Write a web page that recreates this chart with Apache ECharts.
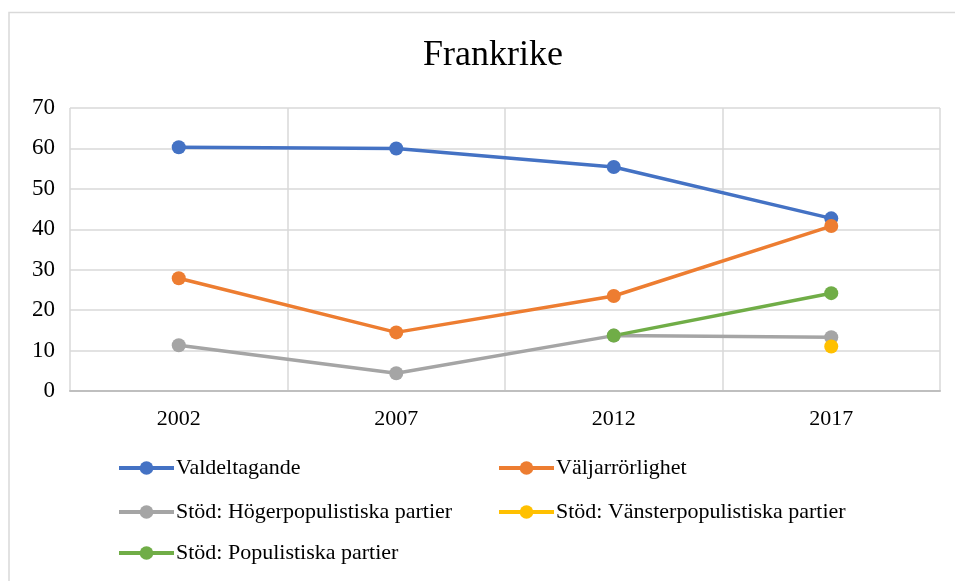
<!DOCTYPE html>
<html>
<head>
<meta charset="utf-8">
<script src="https://cdn.jsdelivr.net/npm/echarts@6/dist/echarts.min.js"></script>
<style>html,body{margin:0;padding:0;background:#fff;}#c{width:955px;height:581px;}</style>
</head>
<body>
<div id="c"></div>
<script>
const title = 'Frankrike';
const categories = ['2002', '2007', '2012', '2017'];
const valdeltagande = [60.3, 60.0, 55.4, 42.7];
const valjarrorlighet = [27.9, 14.5, 23.5, 40.8];
const hoger = [11.3, 4.4, 13.7, 13.3];
const vanster = [null, null, null, 11.0];
const populistiska = [null, null, 13.7, 24.2];
const seriesNames = ['Valdeltagande', 'Väljarrörlighet', 'Stöd: Högerpopulistiska partier', 'Stöd: Vänsterpopulistiska partier', 'Stöd: Populistiska partier'];
const yTicks = {min: 0, max: 70, interval: 10};

const colors = ['#4472C4', '#ED7D31', '#A5A5A5', '#FFC000', '#70AD47'];
const values = [valdeltagande, valjarrorlighet, hoger, vanster, populistiska];
const font = '"Liberation Serif", "Times New Roman", serif';

const chart = echarts.init(document.getElementById('c'), null, {renderer: 'canvas'});

const legendPos = [
  {left: 117, top: 457},
  {left: 497, top: 457},
  {left: 117, top: 501},
  {left: 497, top: 501},
  {left: 117, top: 542}
];

const legends = seriesNames.map((n, i) => ({
  data: [n],
  left: legendPos[i].left,
  top: legendPos[i].top,
  padding: 0,
  itemWidth: 55,
  itemHeight: 17,
  itemGap: 0,
  lineStyle: {width: 4},
  textStyle: {fontFamily: font, fontSize: 22, color: '#000', padding: [0, 0, 0, -3]}
}));

const option = {
  backgroundColor: '#fff',
  animation: false,
  color: colors,
  title: {
    text: title,
    left: 418,
    top: 33,
    textStyle: {fontFamily: font, fontSize: 36, fontWeight: 'normal', color: '#000'}
  },
  graphic: [{
    type: 'rect',
    shape: {x: 9, y: 12.5, width: 1100, height: 1000},
    style: {fill: 'none', stroke: '#d9d9d9', lineWidth: 1.5},
    silent: true
  }],
  legend: legends,
  grid: {left: 70, right: 15, top: 108, bottom: 190, containLabel: false},
  xAxis: {
    type: 'category',
    data: categories,
    boundaryGap: true,
    axisLine: {show: true, lineStyle: {color: '#bfbfbf', width: 2}},
    axisTick: {show: false},
    axisLabel: {fontFamily: font, fontSize: 22, color: '#000', margin: 17},
    splitLine: {show: true, interval: 0, lineStyle: {color: '#d9d9d9', width: 1.5}}
  },
  yAxis: {
    type: 'value',
    min: yTicks.min,
    max: yTicks.max,
    interval: yTicks.interval,
    axisLine: {show: false},
    axisTick: {show: false},
    axisLabel: {fontFamily: font, fontSize: 23, color: '#000', margin: 15},
    splitLine: {show: true, lineStyle: {color: '#d9d9d9', width: 1.5}}
  },
  series: seriesNames.map((n, i) => ({
    name: n,
    type: 'line',
    data: values[i],
    symbol: 'circle',
    symbolSize: 14,
    showSymbol: true,
    connectNulls: false,
    lineStyle: {width: 3.5, color: colors[i]},
    itemStyle: {color: colors[i]}
  }))
};
chart.setOption(option);
</script>
</body>
</html>
